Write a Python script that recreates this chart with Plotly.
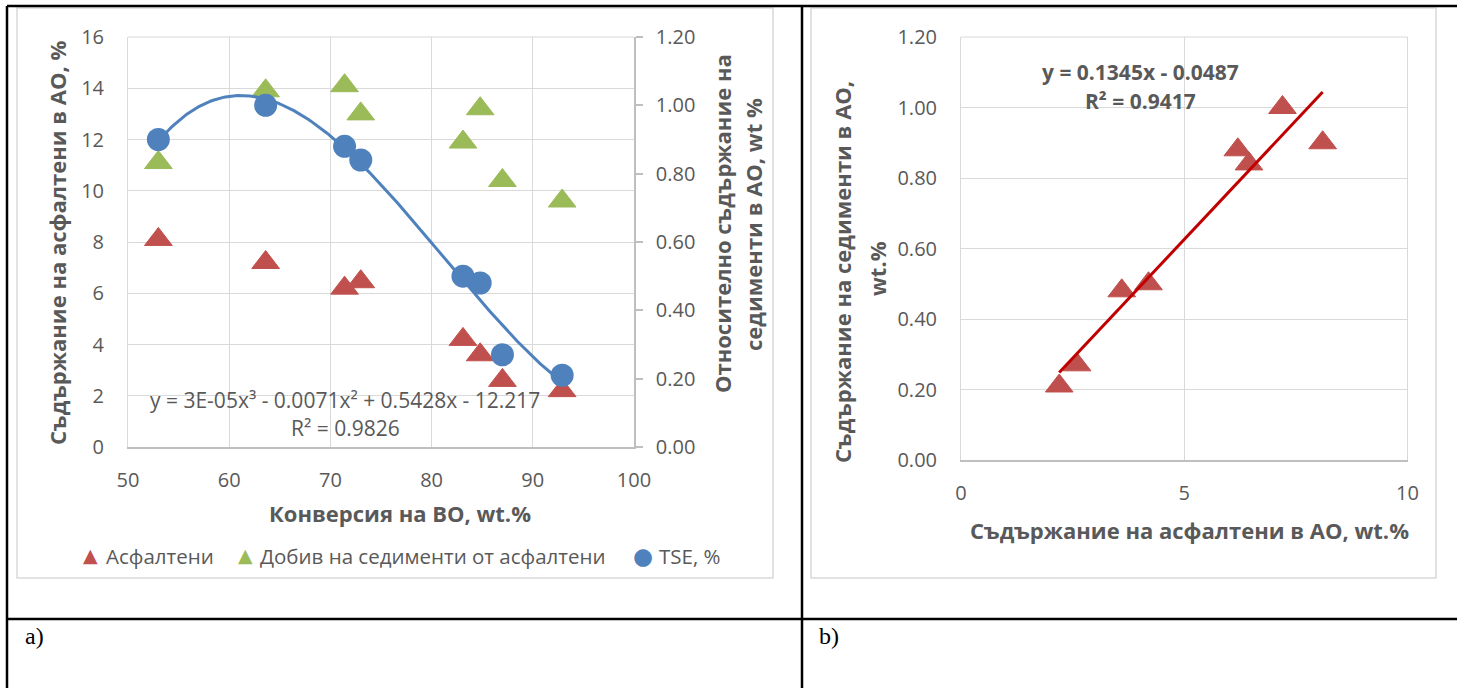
import numpy as np
import plotly.graph_objects as go

W, H = 1457, 688

# ---------------- data ----------------
conversion = [53.0, 63.6, 71.4, 73.0, 83.1, 84.8, 87.0, 92.9]
asphaltenes = [8.1, 7.2, 6.2, 6.45, 4.2, 3.6, 2.6, 2.2]
sediment_yield = [11.1, 13.9, 14.1, 13.0, 11.9, 13.2, 10.4, 9.6]
tse = [0.90, 1.00, 0.88, 0.84, 0.50, 0.48, 0.27, 0.21]

series_names = ["Асфалтени", "Добив на седименти от асфалтени", "TSE, %"]
eq_a = ["y = 3E-05x³ - 0.0071x² + 0.5428x - 12.217", "R² = 0.9826"]
eq_b = ["y = 0.1345x - 0.0487", "R² = 0.9417"]

RED, GREEN, BLUE = "#C0504D", "#9BBB59", "#4F81BD"
TXT = "#595959"
GRID = "#D9D9D9"
AXL = "#BFBFBF"
FONT = "Open Sans"


def px(x):
    return x / W


def py(y):
    return 1 - y / H


# trend lines computed from the data
c3 = np.polyfit(conversion, tse, 3)
xa = np.linspace(min(conversion), max(conversion), 200)
ya = np.polyval(c3, xa)
c1 = np.polyfit(asphaltenes, tse, 1)
xb = np.array([min(asphaltenes), max(asphaltenes)])
yb = np.polyval(c1, xb)

TRI = dict(symbol="triangle-up", size=24)

fig = go.Figure()
fig.add_trace(go.Scatter(x=conversion, y=asphaltenes, mode="markers", name=series_names[0],
                         marker=dict(**TRI, color=RED, line=dict(color=RED, width=1)),
                         xaxis="x", yaxis="y", showlegend=False))
fig.add_trace(go.Scatter(x=conversion, y=sediment_yield, mode="markers", name=series_names[1],
                         marker=dict(**TRI, color=GREEN, line=dict(color=GREEN, width=1)),
                         xaxis="x", yaxis="y", showlegend=False))
fig.add_trace(go.Scatter(x=xa, y=ya, mode="lines", line=dict(color=BLUE, width=3),
                         xaxis="x", yaxis="y2", showlegend=False, hoverinfo="skip"))
fig.add_trace(go.Scatter(x=conversion, y=tse, mode="markers", name=series_names[2],
                         marker=dict(symbol="circle", size=23, color=BLUE),
                         xaxis="x", yaxis="y2", showlegend=False))
fig.add_trace(go.Scatter(x=asphaltenes, y=tse, mode="markers",
                         marker=dict(**TRI, color=RED, line=dict(color=RED, width=1)),
                         xaxis="x2", yaxis="y3", showlegend=False))
fig.add_trace(go.Scatter(x=xb, y=yb, mode="lines", line=dict(color="#C00000", width=3),
                         xaxis="x2", yaxis="y3", showlegend=False, hoverinfo="skip"))

tickfont = dict(family=FONT, size=20, color=TXT)

fig.update_layout(
    width=W, height=H, autosize=False,
    margin=dict(l=0, r=0, t=0, b=0, pad=0, autoexpand=False),
    paper_bgcolor="white", plot_bgcolor="white",
    font=dict(family=FONT, color=TXT),
    xaxis=dict(domain=[px(128), px(634)], range=[50, 100], tick0=50, dtick=10,
               showgrid=True, gridcolor=GRID, gridwidth=1, zeroline=False,
               showline=True, linecolor=AXL, linewidth=1.5, ticks="",
               tickfont=tickfont, ticklabelstandoff=14, anchor="y", automargin=False),
    yaxis=dict(domain=[py(447), py(37)], range=[0, 16], tick0=0, dtick=2,
               showgrid=True, gridcolor=GRID, gridwidth=1, zeroline=False,
               showline=True, linecolor=GRID, ticks="",
               tickfont=tickfont, ticklabelstandoff=19, anchor="x", automargin=False),
    yaxis2=dict(overlaying="y", side="right", anchor="x", range=[0, 1.2], tick0=0, dtick=0.2,
                tickformat=".2f", showgrid=False, zeroline=False,
                showline=True, linecolor=AXL, linewidth=1.5, ticks="outside", ticklen=7,
                tickcolor=AXL, tickwidth=1.5, tickfont=tickfont, ticklabelstandoff=9,
                automargin=False),
    xaxis2=dict(domain=[px(961), px(1407.5)], range=[0, 10], tick0=0, dtick=5,
                showgrid=True, gridcolor=GRID, gridwidth=1, zeroline=False,
                showline=True, linecolor=AXL, linewidth=1.5, ticks="",
                tickfont=tickfont, ticklabelstandoff=14, anchor="y3", automargin=False),
    yaxis3=dict(domain=[py(460), py(37)], range=[0, 1.2], tick0=0, dtick=0.2,
                tickformat=".2f", showgrid=True, gridcolor=GRID, gridwidth=1, zeroline=False,
                showline=True, linecolor=GRID, ticks="",
                tickfont=tickfont, ticklabelstandoff=19, anchor="x2", automargin=False),
)

shapes = []
# chart frames
shapes.append(dict(type="rect", xref="paper", yref="paper", x0=px(17), x1=px(773), y0=py(578), y1=py(8),
                   line=dict(color=GRID, width=1.5), layer="below"))
shapes.append(dict(type="rect", xref="paper", yref="paper", x0=px(811), x1=px(1436), y0=py(578), y1=py(8),
                   line=dict(color=GRID, width=1.5), layer="below"))
# plot-area top / right edges
shapes.append(dict(type="line", xref="paper", yref="paper", x0=px(128), x1=px(634), y0=py(37), y1=py(37),
                   line=dict(color=GRID, width=1), layer="below"))
shapes.append(dict(type="line", xref="paper", yref="paper", x0=px(961), x1=px(1407.5), y0=py(37), y1=py(37),
                   line=dict(color=GRID, width=1), layer="below"))
shapes.append(dict(type="line", xref="paper", yref="paper", x0=px(1407.5), x1=px(1407.5), y0=py(460), y1=py(37),
                   line=dict(color=GRID, width=1), layer="below"))
# table lines
blk = dict(color="black", width=2.5)
shapes.append(dict(type="line", xref="paper", yref="paper", x0=px(7), x1=px(7), y0=0, y1=py(6), line=blk))
shapes.append(dict(type="line", xref="paper", yref="paper", x0=px(7), x1=1, y0=py(6), y1=py(6), line=blk))
shapes.append(dict(type="line", xref="paper", yref="paper", x0=px(802), x1=px(802), y0=0, y1=py(6), line=blk))
shapes.append(dict(type="line", xref="paper", yref="paper", x0=px(7), x1=1, y0=py(619), y1=py(619), line=blk))
fig.update_layout(shapes=shapes)

ann = []


def A(text, x, y, size=20, bold=False, angle=0, xanchor="center", color=TXT, family=FONT):
    t = f"<b>{text}</b>" if bold else text
    ann.append(dict(text=t, x=px(x), y=py(y), xref="paper", yref="paper", showarrow=False,
                    xanchor=xanchor, yanchor="middle", textangle=angle,
                    font=dict(family=family, size=size, color=color)))


# panel a titles
A("Съдържание на асфалтени в АО, %", 57, 243, size=22, bold=True, angle=-90)
A("Относително съдържание на", 722, 224, size=22, bold=True, angle=-90)
A("седименти в АО, wt %", 753, 224, size=22, bold=True, angle=-90)
A("Конверсия на ВО, wt.%", 400, 513, size=22, bold=True)
# panel a equation
A(eq_a[0], 345, 400, size=21)
A(eq_a[1], 345, 428, size=21)
# panel a legend
A("▲", 90, 555, size=19, color=RED, family="DejaVu Sans")
A(series_names[0], 104, 556, size=20.5, xanchor="left")
A("▲", 246, 555, size=19, color=GREEN, family="DejaVu Sans")
A(series_names[1], 258, 556, size=20.5, xanchor="left")
A("●", 643, 556, size=23, color=BLUE, family="DejaVu Sans")
A(series_names[2], 657, 556, size=20.5, xanchor="left")
# panel b titles
A("Съдържание на седименти в АО,", 842, 272, size=22, bold=True, angle=-90)
A("wt.%", 877, 268, size=22, bold=True, angle=-90)
A("Съдържание на асфалтени в АО, wt.%", 1189, 530, size=22, bold=True)
# panel b equation
A(eq_b[0], 1140, 72, size=21, bold=True)
A(eq_b[1], 1140, 101, size=21, bold=True)
# table labels
A("a)", 23, 636, size=24, xanchor="left", color="black", family="Liberation Serif")
A("b)", 817, 636, size=24, xanchor="left", color="black", family="Liberation Serif")

fig.update_layout(annotations=ann)

fig.write_html("out.html")
